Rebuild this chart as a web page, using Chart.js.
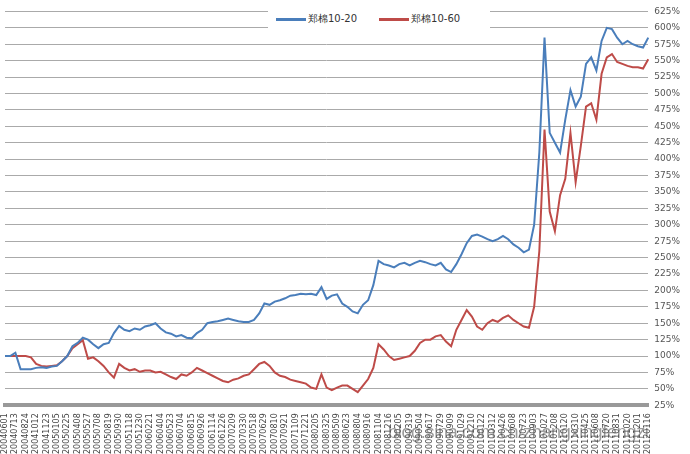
<!DOCTYPE html>
<html>
<head>
<meta charset="utf-8">
<script src="https://cdn.jsdelivr.net/npm/chart.js@4"></script>
<style>
  body { margin: 0; background: #fff; }
  #wrap { position: relative; width: 690px; height: 454px; overflow: hidden; }
  #mark { position: absolute; left: 388px; top: 422px; font: 18px "Liberation Sans", sans-serif; color: rgba(90,90,90,0.6); letter-spacing: -0.3px; white-space: nowrap; }
  #legend { position: absolute; left: 268px; top: 10px; padding: 2px 8px; background: #fff; font: 10px "DejaVu Sans", sans-serif; color: #333; white-space: nowrap; }
  #legend span.sw { display: inline-block; width: 30px; height: 3px; vertical-align: middle; margin-right: 2px; }
  #legend span.it { margin-right: 22px; }
</style>
</head>
<body>
<div id="wrap">
  <canvas id="chart" width="690" height="454"></canvas>
  <div id="legend"></div>
  <div id="mark">blog.sina.com.cn/zhangxingfengzi</div>
</div>
<script>
  // tick dates on the x axis (one every other data point)
  const dates = ['20040601','20040713','20040824','20041012','20041123','20050105','20050225','20050408','20050527','20050708',
    '20050819','20050930','20051118','20051230','20060221','20060404','20060523','20060704','20060815','20060926',
    '20061114','20061226','20070209','20070330','20070518','20070629','20070810','20070921','20071109','20071221',
    '20080205','20080325','20080509','20080623','20080804','20080916','20081104','20081216','20090205','20090319',
    '20090504','20090617','20090729','20090909','20091029','20091210','20100122','20100312','20100426','20100608',
    '20100723','20100903','20101027','20101208','20110120','20110310','20110425','20110608','20110720','20110831',
    '20111020','20111201','20120116'];

  // 郑棉10-20
  const blue = [100,100,105,80,80,80,82,83,82,84,85,92,100,115,120,128,125,118,112,118,
    120,135,146,140,138,142,140,145,147,150,142,136,134,130,132,128,127,135,140,150,
    152,153,155,157,155,153,152,152,155,165,180,178,183,185,188,192,193,195,194,195,
    193,205,187,192,194,180,175,168,165,178,185,208,245,240,238,235,240,242,238,242,
    245,243,240,238,242,232,228,240,255,272,283,285,282,278,275,278,283,278,270,265,
    258,262,300,410,585,440,425,410,460,505,480,495,545,555,535,580,600,598,585,575,
    580,575,572,570,585];

  // 郑棉10-60
  const red = [100,100,100,100,100,98,88,85,84,85,86,92,100,112,118,124,96,98,92,85,
    75,67,88,82,78,80,76,78,78,75,76,72,68,65,72,70,75,82,78,74,
    70,66,62,60,64,66,70,72,80,88,91,85,75,70,68,64,62,60,58,52,
    50,72,52,48,52,55,55,50,45,55,65,82,118,110,100,94,96,98,100,108,
    120,125,125,130,132,122,115,140,155,170,160,145,140,150,155,152,158,162,155,150,
    145,143,175,260,445,320,290,345,370,440,365,420,480,485,460,530,555,560,548,545,
    542,540,540,538,552];

  const labels = blue.map((v, i) => (i % 2 === 0 ? dates[i / 2] : ''));

  const chart = new Chart(document.getElementById('chart'), {
    type: 'line',
    data: {
      labels: labels,
      datasets: [
        { label: '郑棉10-20', data: blue, borderColor: '#4a7ebb', backgroundColor: '#4a7ebb', borderWidth: 2, pointRadius: 0, tension: 0 },
        { label: '郑棉10-60', data: red, borderColor: '#be4b48', backgroundColor: '#be4b48', borderWidth: 2, pointRadius: 0, tension: 0 }
      ]
    },
    options: {
      responsive: false,
      animation: false,
      layout: { padding: { left: 5, top: 4, right: 4, bottom: 0 } },
      plugins: {
        legend: { display: false },
        tooltip: { enabled: false }
      },
      scales: {
        x: {
          offset: false,
          grid: { display: false },
          border: { color: '#999', width: 4 },
          ticks: { autoSkip: false, maxRotation: 90, minRotation: 90, font: { size: 8, family: 'DejaVu Sans' }, color: '#444', padding: 0 }
        },
        y: {
          position: 'right',
          min: 25, max: 625,
          grid: { color: '#aaa', drawTicks: false },
          border: { display: false },
          ticks: { stepSize: 25, callback: v => v + '%', font: { size: 9, family: 'DejaVu Sans' }, color: '#555', padding: 6 }
        }
      }
    }
  });

  // legend as html text over the top of the plot
  document.getElementById('legend').innerHTML = chart.data.datasets.map(d =>
    '<span class="it"><span class="sw" style="background:' + d.borderColor + '"></span>' + d.label + '</span>').join('');
</script>
</body>
</html>
